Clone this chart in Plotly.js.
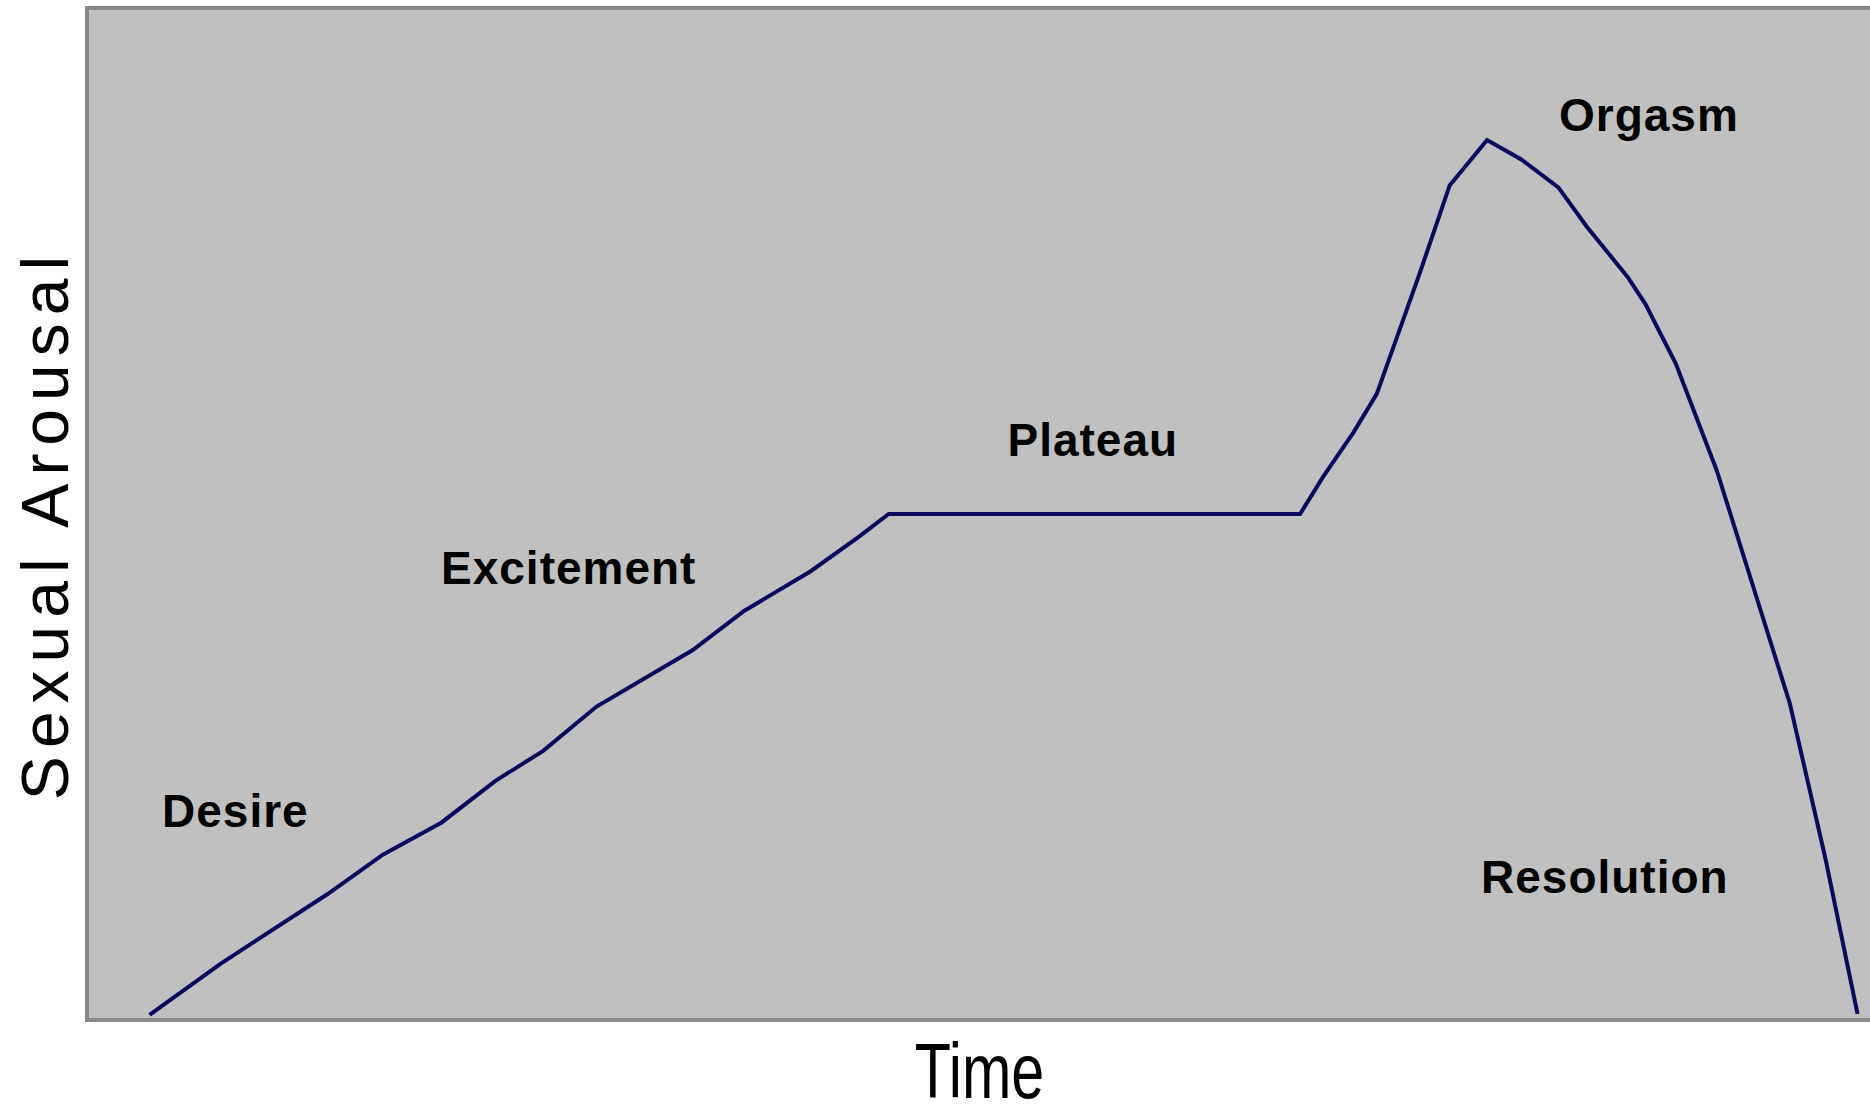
<!DOCTYPE html>
<html>
<head>
<meta charset="utf-8">
<script src="https://cdn.plot.ly/plotly-3.0.1.min.js"></script>
<style>
html,body{margin:0;padding:0;background:#fff;}
#chart{width:1870px;height:1114px;}
#chart .xtitle{transform-box:fill-box;transform-origin:50% 50%;transform:scaleX(0.77);}
#chart .ytitle{letter-spacing:8px;}
#chart .g-ytitle{transform:translate(12px,10px);}
#chart .annotation-text{letter-spacing:1px;}
</style>
</head>
<body>
<div id="chart"></div>
<script>
// Time (0-100) and sexual arousal (0-100)
const timeValues = [3.4, 7.4, 13.4, 16.5, 19.8, 22.8, 25.5, 28.5, 33.9, 36.8, 40.5, 43.2, 44.9,
  68.0, 69.3, 71.0, 72.3, 74.7, 76.4, 78.5, 80.4, 82.5, 84.1, 86.4, 87.4, 89.1, 91.4, 93.4, 95.5, 97.5, 99.3];
const arousalValues = [0.3, 5.4, 12.3, 16.2, 19.4, 23.5, 26.5, 30.9, 36.5, 40.4, 44.3, 47.7, 50.0,
  50.0, 53.7, 58.1, 61.9, 73.8, 82.6, 87.1, 85.2, 82.4, 78.5, 73.5, 70.8, 64.9, 54.3, 43.1, 31.2, 15.8, 0.4];

const phaseNames = ["Desire", "Excitement", "Plateau", "Orgasm", "Resolution"];
const phaseX = [8.25, 26.9, 56.4, 87.6, 85.1];
const phaseY = [20.5, 44.6, 57.3, 89.6, 14.0];

const labelFont = {family: "Liberation Sans, Arial, sans-serif", size: 46, color: "#000", weight: "bold"};

const annotations = phaseNames.map((name, i) => ({
  text: name, x: phaseX[i], y: phaseY[i], xref: "x", yref: "y",
  showarrow: false, xanchor: "center", yanchor: "middle", font: labelFont
}));

const trace = {
  x: timeValues, y: arousalValues, type: "scatter", mode: "lines",
  line: {color: "#0b0b5c", width: 4, shape: "linear"},
  hoverinfo: "skip"
};

const layout = {
  width: 1870, height: 1114,
  margin: {l: 89, r: 0, t: 10, b: 96, pad: 0},
  paper_bgcolor: "#ffffff",
  plot_bgcolor: "#c0c0c0",
  showlegend: false,
  xaxis: {
    range: [0, 100], showgrid: false, zeroline: false, showticklabels: false, ticks: "",
    showline: true, linecolor: "#888888", linewidth: 4, mirror: true,
    title: {text: "Time", standoff: 28,
      font: {family: "Liberation Sans, Arial, sans-serif", size: 77, color: "#000"}}
  },
  yaxis: {
    range: [0, 100], showgrid: false, zeroline: false, showticklabels: false, ticks: "",
    showline: true, linecolor: "#888888", linewidth: 4, mirror: false,
    title: {text: "Sexual Arousal", standoff: 8,
      font: {family: "Liberation Sans, Arial, sans-serif", size: 66, color: "#000"}}
  },
  annotations: annotations
};

Plotly.newPlot("chart", [trace], layout, {displayModeBar: false, staticPlot: true});
</script>
</body>
</html>
